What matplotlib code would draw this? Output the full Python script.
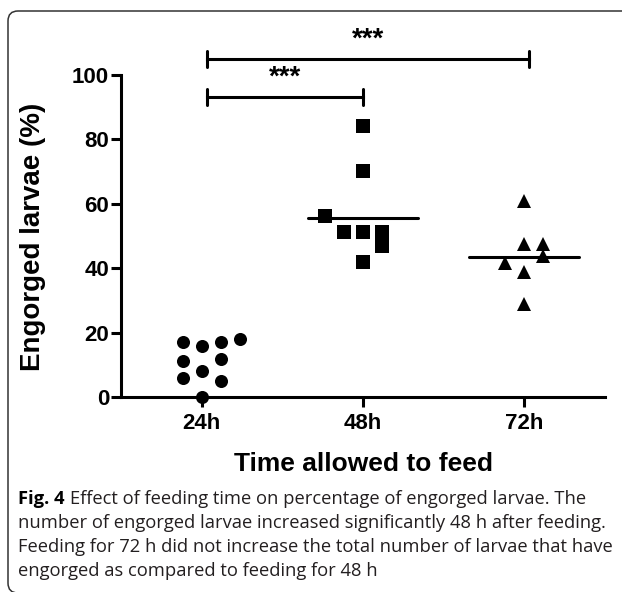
import matplotlib
matplotlib.use("Agg")
import matplotlib.pyplot as plt
import numpy as np
from matplotlib.patches import FancyBboxPatch
from matplotlib.transforms import IdentityTransform

# data
groups = ["24h", "48h", "72h"]

vals_24 = [17.1, 15.9, 17.1, 18.0, 11.2, 11.8, 5.9, 8.1, 5.0, 0.0]
slot_24 = [-1, 0, 1, 2, -1, 1, -1, 0, 1, 0]

vals_48 = [84.2, 70.2, 56.2, 51.2, 51.2, 51.2, 47.0, 42.0]
slot_48 = [0, 0, -2, -1, 0, 1, 1, 0]

vals_72 = [61.0, 47.5, 47.5, 41.6, 43.8, 38.8, 28.9]
slot_72 = [0, 0, 1, -1, 1, 0, 0]

mean_lines = {1: 55.6, 2: 43.5}

# significance bars: (x start, x end, y)
sig_bars = [(0.03, 1.0, 93.2), (0.03, 2.03, 105.0)]
sig_text = ["***", "***"]

caption_lines = [
    "Effect of feeding time on percentage of engorged larvae. The",
    "number of engorged larvae increased significantly 48 h after feeding.",
    "Feeding for 72 h did not increase the total number of larvae that have",
    "engorged as compared to feeding for 48 h",
]

plt.rcParams['font.family'] = ['Liberation Sans', 'DejaVu Sans']

W, H = 622, 592
fig = plt.figure(figsize=(W / 100, H / 100), dpi=100)
ax = fig.add_axes([121 / W, (H - 397) / H, 484 / W, 322 / H])

step = 0.118
lw = 2.2
for i, (v, s, m) in enumerate([(vals_24, slot_24, 'o'), (vals_48, slot_48, 's'), (vals_72, slot_72, '^')]):
    x = i + np.array(s) * step
    ms = 9.4 if m != '^' else 10.5
    ax.plot(x, v, m, color='black', ms=ms, mew=0, clip_on=False, zorder=3)

for i, y in mean_lines.items():
    ax.plot([i - 0.34, i + 0.34], [y, y], color='black', lw=lw, solid_capstyle='round', zorder=4)

for (x0, x1, y), t in zip(sig_bars, sig_text):
    ax.plot([x0, x1], [y, y], color='black', lw=lw, clip_on=False)
    for xx in (x0, x1):
        ax.plot([xx, xx], [y - 2.5, y + 2.5], color='black', lw=lw, solid_capstyle='round', clip_on=False)
    ax.text((x0 + x1) / 2, y + 6.0, t, ha='center', va='center', fontsize=20, fontweight='bold', clip_on=False)

ax.set_xlim(-0.5, 2.5)
ax.set_ylim(0, 100)
ax.set_xticks([0, 1, 2])
ax.set_xticklabels(groups)
ax.set_yticks([0, 20, 40, 60, 80, 100])
for sp in ['top', 'right']:
    ax.spines[sp].set_visible(False)
for sp in ['left', 'bottom']:
    ax.spines[sp].set_linewidth(lw)
ax.tick_params(width=lw, length=7.5, labelsize=16)
ax.tick_params(axis='x', pad=4)
ax.tick_params(axis='y', pad=1)
for lab in ax.get_xticklabels() + ax.get_yticklabels():
    lab.set_fontweight('bold')

fig.text(363 / W, 1 - 464 / H, "Time allowed to feed", ha='center', va='center', fontsize=19, fontweight='bold')
fig.text(33 / W, 1 - 237 / H, "Engorged larvae (%)", ha='center', va='center', rotation=90, fontsize=20, fontweight='bold')

# rounded frame around the figure
frame = FancyBboxPatch((8, -1), 700, H - 10, boxstyle="round,pad=0,rounding_size=10",
                       transform=IdentityTransform(), fill=False, ec='#333333', lw=1.1)
fig.patches.append(frame)

# caption
fig.canvas.draw()
r = fig.canvas.get_renderer()
ys = [499, 523, 547, 571]
cap_font = dict(family=['Open Sans', 'DejaVu Sans'], fontsize=13.2, color='#231f20')
t0 = fig.text(18 / W, 1 - ys[0] / H, "Fig. 4", ha='left', va='center', fontweight='bold',
              family=['Open Sans', 'DejaVu Sans'], fontsize=13.2, color='black')
bb = t0.get_window_extent(r)
fig.text((bb.x1 + 5) / W, 1 - ys[0] / H, caption_lines[0], ha='left', va='center', **cap_font)
for y, line in zip(ys[1:], caption_lines[1:]):
    fig.text(18 / W, 1 - y / H, line, ha='left', va='center', **cap_font)

fig.savefig("out.png", dpi=100)
